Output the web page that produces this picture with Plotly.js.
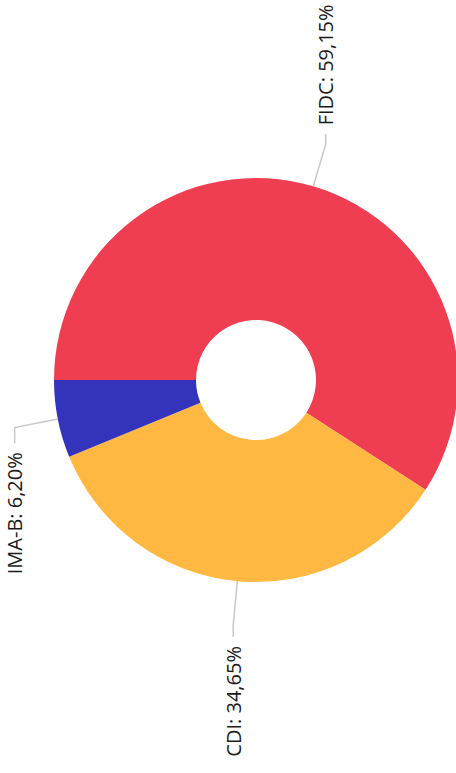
<!DOCTYPE html>
<html><head><meta charset="utf-8">
<script src="https://cdn.plot.ly/plotly-3.0.1.min.js"></script>
<style>html,body{margin:0;padding:0;overflow:hidden;background:#fff}#chart{width:460px;height:773px}</style>
</head><body><div id="chart"></div>
<script>
// Data (clockwise order starting at 9 o'clock)
const categories = ['FIDC', 'CDI', 'IMA-B'];
const values = [59.15, 34.65, 6.20];
const labelTexts = ['FIDC: 59,15%', 'CDI: 34,65%', 'IMA-B: 6,20%'];
const colors = ['#EF3D51', '#FFB942', '#3333BB'];

// Geometry / style
const W = 460, H = 773;
const CX = 256, CY = 380, R = 202, HOLE = 60 / 202;
const ROT = -90;            // first slice starts at 9 o'clock
const L1 = 44, L2 = [10, 12, 16], GAP = 7;

const total = values.reduce((a, b) => a + b, 0);
const shapes = [], annotations = [];
let cum = 0;
values.forEach((v, i) => {
  const a = (ROT + 360 * (cum + v / 2) / total) * Math.PI / 180;
  cum += v;
  const ux = Math.sin(a), uy = -Math.cos(a);
  const p0 = [CX + R * ux, CY + R * uy];
  const p1 = [CX + (R + L1) * ux, CY + (R + L1) * uy];
  const dir = uy < 0 ? -1 : 1;
  const p2 = [p1[0], p1[1] + dir * L2[i]];
  const fx = x => x / W, fy = y => 1 - y / H;
  shapes.push({
    type: 'path', xref: 'paper', yref: 'paper',
    path: `M ${fx(p0[0])},${fy(p0[1])} L ${fx(p1[0])},${fy(p1[1])} L ${fx(p2[0])},${fy(p2[1])}`,
    line: {color: '#c8c8c8', width: 1.5}
  });
  annotations.push({
    xref: 'paper', yref: 'paper', x: fx(p2[0]), y: fy(p2[1]),
    text: labelTexts[i], showarrow: false, textangle: -90,
    xanchor: 'center', yanchor: dir < 0 ? 'bottom' : 'top',
    yshift: dir < 0 ? GAP : -GAP,
    font: {family: 'Open Sans, sans-serif', size: 20, color: '#1a1a1a'}
  });
});

const trace = {
  type: 'pie', labels: categories, values: values, sort: false,
  direction: 'clockwise', rotation: ROT, hole: HOLE,
  marker: {colors: colors, line: {width: 0}},
  textinfo: 'none', hoverinfo: 'skip',
  domain: {x: [(CX - R) / W, (CX + R) / W], y: [1 - (CY + R) / H, 1 - (CY - R) / H]}
};

Plotly.newPlot('chart', [trace], {
  width: W, height: H, margin: {l: 0, r: 0, t: 0, b: 0},
  showlegend: false, paper_bgcolor: '#fff', plot_bgcolor: '#fff',
  shapes: shapes, annotations: annotations
}, {displayModeBar: false, staticPlot: true});
</script></body></html>
